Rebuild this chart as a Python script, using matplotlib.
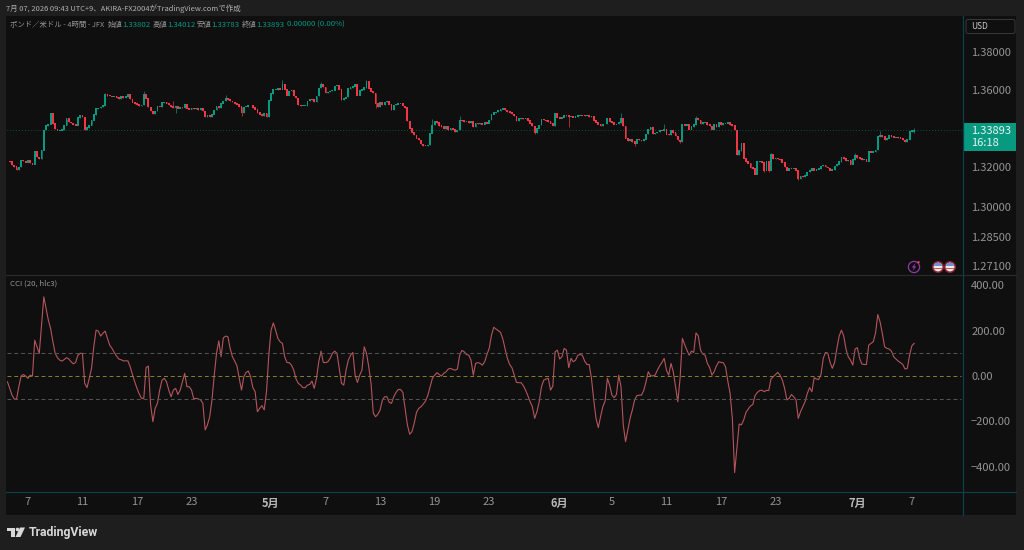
import matplotlib
matplotlib.use('Agg')
import matplotlib.pyplot as plt
import numpy as np
from matplotlib.patches import Circle, Polygon, Rectangle, FancyBboxPatch

plt.rcParams['font.family'] = ['Noto Sans CJK JP', 'DejaVu Sans']

# 4h closes, GBP/USD, oldest first
closes = [
    1.3233, 1.3229, 1.3212, 1.3204, 1.3188, 1.3202, 1.3236, 1.3233, 1.3226, 1.3236,
    1.3222, 1.3216, 1.3280, 1.3253, 1.3245, 1.3287, 1.3391, 1.3413, 1.3420, 1.3476,
    1.3425, 1.3396, 1.3389, 1.3389, 1.3394, 1.3416, 1.3450, 1.3433, 1.3428, 1.3421,
    1.3415, 1.3455, 1.3467, 1.3459, 1.3391, 1.3403, 1.3416, 1.3442, 1.3471, 1.3501,
    1.3505, 1.3510, 1.3518, 1.3578, 1.3569, 1.3568, 1.3566, 1.3566, 1.3559, 1.3552,
    1.3564, 1.3559, 1.3564, 1.3578, 1.3552, 1.3535, 1.3528, 1.3523, 1.3518, 1.3521,
    1.3578, 1.3556, 1.3510, 1.3489, 1.3474, 1.3490, 1.3512, 1.3510, 1.3534, 1.3537,
    1.3529, 1.3520, 1.3512, 1.3506, 1.3515, 1.3503, 1.3510, 1.3508, 1.3524, 1.3503,
    1.3498, 1.3506, 1.3501, 1.3503, 1.3496, 1.3503, 1.3489, 1.3460, 1.3465, 1.3458,
    1.3472, 1.3494, 1.3512, 1.3508, 1.3529, 1.3541, 1.3555, 1.3549, 1.3541, 1.3537,
    1.3527, 1.3524, 1.3512, 1.3482, 1.3510, 1.3513, 1.3520, 1.3520, 1.3508, 1.3498,
    1.3482, 1.3472, 1.3465, 1.3477, 1.3460, 1.3546, 1.3580, 1.3601, 1.3601, 1.3606,
    1.3603, 1.3627, 1.3603, 1.3572, 1.3594, 1.3598, 1.3568, 1.3558, 1.3520, 1.3517,
    1.3517, 1.3517, 1.3541, 1.3551, 1.3548, 1.3537, 1.3568, 1.3610, 1.3627, 1.3615,
    1.3586, 1.3589, 1.3594, 1.3598, 1.3620, 1.3623, 1.3603, 1.3549, 1.3555, 1.3563,
    1.3606, 1.3611, 1.3618, 1.3627, 1.3572, 1.3598, 1.3601, 1.3611, 1.3644, 1.3606,
    1.3592, 1.3584, 1.3529, 1.3512, 1.3537, 1.3520, 1.3537, 1.3541, 1.3524, 1.3494,
    1.3520, 1.3524, 1.3529, 1.3529, 1.3515, 1.3508, 1.3438, 1.3400, 1.3379, 1.3365,
    1.3348, 1.3340, 1.3319, 1.3310, 1.3309, 1.3314, 1.3374, 1.3417, 1.3434, 1.3429,
    1.3414, 1.3408, 1.3396, 1.3408, 1.3391, 1.3400, 1.3395, 1.3383, 1.3391, 1.3443,
    1.3439, 1.3432, 1.3434, 1.3429, 1.3438, 1.3408, 1.3426, 1.3422, 1.3426, 1.3420,
    1.3429, 1.3426, 1.3443, 1.3472, 1.3481, 1.3484, 1.3491, 1.3498, 1.3505, 1.3494,
    1.3486, 1.3481, 1.3474, 1.3463, 1.3439, 1.3450, 1.3451, 1.3450, 1.3451, 1.3439,
    1.3426, 1.3412, 1.3377, 1.3400, 1.3417, 1.3446, 1.3443, 1.3439, 1.3434, 1.3426,
    1.3412, 1.3477, 1.3457, 1.3451, 1.3457, 1.3469, 1.3465, 1.3460, 1.3460, 1.3457,
    1.3460, 1.3467, 1.3469, 1.3467, 1.3463, 1.3465, 1.3460, 1.3463, 1.3439, 1.3431,
    1.3420, 1.3413, 1.3422, 1.3423, 1.3452, 1.3435, 1.3430, 1.3421, 1.3423, 1.3430,
    1.3452, 1.3412, 1.3349, 1.3335, 1.3344, 1.3332, 1.3323, 1.3344, 1.3340, 1.3335,
    1.3344, 1.3371, 1.3395, 1.3406, 1.3371, 1.3375, 1.3381, 1.3388, 1.3387, 1.3395,
    1.3369, 1.3368, 1.3387, 1.3378, 1.3361, 1.3340, 1.3330, 1.3423, 1.3416, 1.3419,
    1.3395, 1.3409, 1.3418, 1.3452, 1.3443, 1.3423, 1.3430, 1.3430, 1.3418, 1.3412,
    1.3395, 1.3418, 1.3409, 1.3430, 1.3419, 1.3426, 1.3426, 1.3430, 1.3418, 1.3414,
    1.3392, 1.3263, 1.3285, 1.3323, 1.3246, 1.3228, 1.3220, 1.3199, 1.3194, 1.3165,
    1.3228, 1.3228, 1.3225, 1.3185, 1.3228, 1.3185, 1.3266, 1.3245, 1.3247, 1.3243,
    1.3240, 1.3225, 1.3202, 1.3185, 1.3194, 1.3192, 1.3194, 1.3185, 1.3142, 1.3154,
    1.3151, 1.3159, 1.3176, 1.3185, 1.3194, 1.3185, 1.3190, 1.3194, 1.3206, 1.3211,
    1.3202, 1.3197, 1.3185, 1.3188, 1.3206, 1.3216, 1.3228, 1.3250, 1.3245, 1.3233,
    1.3237, 1.3216, 1.3240, 1.3262, 1.3249, 1.3245, 1.3240, 1.3240, 1.3231, 1.3280,
    1.3276, 1.3280, 1.3288, 1.3357, 1.3366, 1.3357, 1.3340, 1.3348, 1.3366, 1.3357,
    1.3354, 1.3354, 1.3352, 1.3348, 1.3340, 1.3331, 1.3343, 1.3383, 1.3388, 1.33893,
]

# wicks that stand clear of the candle bodies
wick_high_idx = [43, 60, 73, 96, 121, 138, 158, 187, 199, 241, 270, 289, 303, 336, 373, 384, 399]
wick_high_val = [1.3586, 1.3595, 1.3541, 1.3575, 1.3654, 1.3644, 1.3653, 1.3448, 1.3463, 1.3481,
                 1.3481, 1.3423, 1.3464, 1.3271, 1.3274, 1.3386, 1.34012]
wick_low_idx = [74, 103, 162, 232, 247, 276, 296, 333, 335, 348, 399]
wick_low_val = [1.3477, 1.3465, 1.3503, 1.3369, 1.3408, 1.3309, 1.3323, 1.3176, 1.3176, 1.3137, 1.33783]

last_open = 1.33802
last_close = 1.33893

# CCI (20, hlc3), same bars as closes
cci = [
    -25, -54, -84, -101, -101, -47, 0, 7, 0, -10, 4, 0, 158, 129, 100, 224, 349, 297, 246, 209,
    151, 100, 81, 70, 66, 73, 81, 75, 63, 54, 60, 92, 100, 100, -32, -51, -10, 34, 129, 202,
    198, 176, 188, 198, 166, 136, 122, 104, 88, 75, 72, 67, 67, 67, 41, 7, -25, -54, -79, -98,
    -98, 37, 44, -127, -201, -142, -120, -62, -18, -10, -25, -62, -91, -62, -54, -81, -62, -25, 12, -47,
    -47, -62, -101, -98, -101, -105, -120, -237, -215, -179, -105, 4, 100, 155, 85, 168, 176, 173, 122, 85,
    66, 45, -10, -62, -3, 16, 22, -3, -51, -69, -157, -142, -130, -149, -69, 92, 202, 234, 202, 166,
    151, 144, 85, 60, 59, 48, 26, -13, -32, -40, -51, -51, -40, -37, -22, -54, -10, 63, 110, 60,
    59, 63, 78, 100, 110, 100, 34, -32, -40, 26, 70, 92, 104, 4, -28, 4, 26, 129, 100, 41,
    -32, -164, -179, -168, -149, -105, -91, -91, -116, -120, -91, -72, -59, -59, -72, -142, -215, -256, -245, -208,
    -160, -142, -135, -123, -110, -84, -47, -10, 4, 15, 7, 0, 12, 19, 31, 34, 29, 26, 31, 92,
    113, 107, 95, 92, 70, 4, 56, 59, 56, 48, 63, 95, 122, 180, 215, 207, 200, 192, 163, 119,
    78, 51, 37, 4, -28, -29, -29, -42, -62, -86, -113, -135, -186, -157, -113, -47, -18, -13, -10, -62,
    -44, 107, 114, 75, 85, 122, 114, 37, 78, 63, 70, 92, 95, 92, 66, 51, 51, -10, -105, -186,
    -227, -179, -135, -110, -10, -40, -84, -95, -81, 4, -47, -215, -289, -237, -186, -149, -105, -86, -84, -84,
    -64, -25, 19, 1, 1, 4, 26, 45, 60, 78, 26, 4, 56, 19, -47, -113, -10, 166, 139, 114,
    92, 110, 104, 190, 177, 114, 97, 92, 56, 38, 4, 19, 45, 63, 60, 59, 41, -22, -76, -186,
    -425, -318, -211, -215, -193, -160, -145, -132, -125, -86, -72, -64, -62, -69, -63, -64, -13, -3, 7, 16,
    4, -18, -54, -105, -98, -81, -91, -105, -186, -157, -135, -113, -76, -51, -69, -7, -13, -15, 7, 78,
    104, 101, 60, 34, 60, 122, 176, 202, 177, 119, 85, 70, 48, 119, 125, 78, 53, 51, 51, 136,
    144, 151, 188, 271, 239, 188, 129, 122, 119, 110, 85, 75, 66, 59, 51, 31, 34, 92, 133, 144,
]

date_tick_idx = [9, 33, 57, 81, 116, 140, 164, 188, 212, 243, 266, 290, 314, 338, 374, 398]
date_tick_lab = ['7', '11', '17', '23', '5月', '7', '13', '19', '23', '6月', '5', '11', '17', '23', '7月', '7']
month_labels = ['5月', '6月', '7月']

price_ticks = [1.38, 1.36, 1.32, 1.30, 1.285, 1.271]
cci_ticks = [400, 200, 0, -200, -400]
cci_levels = [100, -100]

BG_OUTER = '#1e1e1e'
BG_PANE = '#0f0f0f'
UP = '#089981'
DOWN = '#f23645'
TICK = '#949494'
LEGEND_GREY = '#969696'
EDGE_TEAL = '#0c3f4a'
EDGE_GREY = '#2a2a2a'

W, H = 1024, 550


def pane_rect(x0, y0, x1, y1):
    # pixel box (y down) to figure fractions
    return [x0 / W, 1 - y1 / H, (x1 - x0) / W, (y1 - y0) / H]


closes = np.array(closes)
opens = np.r_[closes[0], closes[:-1]]
opens[-1] = last_open
highs = np.maximum(opens, closes)
lows = np.minimum(opens, closes)
highs[wick_high_idx] = wick_high_val
lows[wick_low_idx] = wick_low_val
bars = np.arange(len(closes))
rising = closes >= opens

fig = plt.figure(figsize=(W / 100, H / 100), dpi=100, facecolor=BG_OUTER)

# full-figure layer in pixel coordinates for the frame, badges and logo
chrome = fig.add_axes([0, 0, 1, 1], zorder=0)
chrome.set_xlim(0, W)
chrome.set_ylim(H, 0)
chrome.axis('off')
chrome.add_patch(Rectangle((6, 16), 1010, 499, fc=BG_PANE, ec='none'))

xlim = (-0.2, 420.5)

ax = fig.add_axes(pane_rect(7, 17, 963, 275), zorder=1, facecolor='none')
ax.set_yscale('log')
ax.vlines(bars[rising], lows[rising], highs[rising], color=UP, lw=0.7, alpha=0.7)
ax.vlines(bars[~rising], lows[~rising], highs[~rising], color=DOWN, lw=0.7, alpha=0.7)
# bodies keep a sliver of height on flat bars
ax.bar(bars[rising], (closes - opens)[rising] + 0.00035, bottom=opens[rising] - 0.00015, width=0.8, color=UP, lw=0)
ax.bar(bars[~rising], (opens - closes)[~rising] + 0.00035, bottom=closes[~rising] - 0.00015, width=0.8, color=DOWN, lw=0)
ax.axhline(last_close, color=UP, lw=0.6, ls=(0, (1, 2.5)), alpha=0.65)
ax.set_xlim(*xlim)
ax.set_ylim(1.26638, 1.39874)
ax.yaxis.tick_right()
ax.set_yticks(price_ticks)
ax.set_yticklabels(['%.5f' % p for p in price_ticks])
ax.minorticks_off()
ax.set_xticks([])
ax.tick_params(axis='y', length=0, pad=5.8, labelsize=8, labelcolor=TICK)

cax = fig.add_axes(pane_rect(7, 275, 963, 491), zorder=1, facecolor='none')
cax.plot(bars, cci, color='#b4555c', lw=0.8)
for lev in cci_levels:
    cax.axhline(lev, xmax=0.998, color='#565656', lw=0.7, ls=(0, (4, 3)))
cax.axhline(0, xmax=0.998, color='#85802c', lw=0.7, ls=(0, (4, 3)))
cax.set_xlim(*xlim)
cax.set_ylim(-506, 445)
cax.yaxis.tick_right()
cax.set_yticks(cci_ticks)
cax.set_yticklabels([('%.2f' % v).replace('-', '\u2212') for v in cci_ticks])
cax.set_xticks(date_tick_idx)
cax.set_xticklabels(date_tick_lab)
cax.tick_params(axis='y', length=0, pad=5.8, labelsize=8, labelcolor=TICK)
cax.tick_params(axis='x', length=0, pad=4.5, labelsize=8, labelcolor=TICK)
for lab in cax.get_xticklabels():
    if lab.get_text() in month_labels:
        lab.set_fontweight('bold')
        lab.set_color('#b8b8b8')

for a in (ax, cax):
    for s in a.spines.values():
        s.set_visible(False)

# pane separators
chrome.plot([6, 1016], [275, 275], color=EDGE_GREY, lw=0.9)
chrome.plot([6, 1016], [491.5, 491.5], color=EDGE_TEAL, lw=0.9)
chrome.plot([963, 963], [16, 515], color=EDGE_TEAL, lw=0.9)

# top caption and OHLC legend
chrome.text(6, 8.5, '7月 07, 2026 09:43 UTC+9、AKIRA-FX2004がTradingView.comで作成',
            color='#b0b0b0', fontsize=5.4, va='center', ha='left')
legend_y = 25
chrome.text(10, legend_y, 'ポンド／米ドル - 4時間 - JFX', color=LEGEND_GREY, fontsize=5.3, va='center')
ohlc_names = ['始値', '高値', '安値', '終値']
ohlc_vals = ['1.33802', '1.34012', '1.33783', '1.33893']
ohlc_x = [108, 153, 197, 242]
for xp, nm, val in zip(ohlc_x, ohlc_names, ohlc_vals):
    chrome.text(xp, legend_y, nm, color=LEGEND_GREY, fontsize=5.3, va='center')
    chrome.text(xp + 14, legend_y, val, color=UP, fontsize=5.6, va='center')
chrome.text(287, legend_y, '0.00000 (0.00%)', color=UP, fontsize=5.6, va='center')
chrome.text(10, 284, 'CCI (20, hlc3)', color=LEGEND_GREY, fontsize=5.6, va='center')

# currency button
chrome.add_patch(FancyBboxPatch((966, 19.5), 49, 14, boxstyle='round,pad=0,rounding_size=2',
                                fc=BG_PANE, ec='#3a3a3a', lw=0.7))
chrome.text(971, 26.5, 'USD', color='#c8c8c8', fontsize=6, va='center')

# last price tag
chrome.add_patch(Rectangle((963.5, 122.5), 52, 28, fc=UP, ec='none'))
chrome.text(971, 130.5, '%.5f' % last_close, color='#e8f4f1', fontsize=8, va='center')
chrome.text(971, 143, '16:18', color='#e8f4f1', fontsize=8, va='center')

# event badges
chrome.add_patch(Circle((914, 267), 5.6, fc=BG_PANE, ec='#8e3aa8', lw=0.9))
chrome.add_patch(Polygon([(915.5, 262.8), (911.8, 267.6), (913.9, 267.6), (912.6, 271.2), (916.3, 266.4), (914.2, 266.4)],
                         fc='#8e3aa8', ec='none'))
chrome.add_patch(Circle((918.5, 262.2), 1.2, fc='#f23645', ec='none', zorder=5))
for cx in (938, 950):
    chrome.add_patch(Circle((cx, 267), 6, fc='#8d2430', ec='none'))
    face = Circle((cx, 267), 4.4, fc='#ececec', ec='none')
    chrome.add_patch(face)
    canton = Rectangle((cx - 4.4, 262.6), 8.8, 3.6, fc='#6f8fd8', ec='none')
    chrome.add_patch(canton)
    canton.set_clip_path(face)
    stripe = Rectangle((cx - 4.4, 268.2), 8.8, 1.2, fc='#d8525c', ec='none')
    chrome.add_patch(stripe)
    stripe.set_clip_path(face)

# logo mark and wordmark
chrome.add_patch(Polygon([(7, 527.5), (15, 527.5), (15, 537), (11, 537), (11, 531), (7, 531)], fc='#d8d8d8', ec='none'))
chrome.add_patch(Circle((17.5, 529.5), 1.8, fc='#d8d8d8', ec='none'))
chrome.add_patch(Polygon([(20, 527.5), (25, 527.5), (20.5, 537), (15.5, 537)], fc='#d8d8d8', ec='none'))
chrome.text(29, 532.5, 'TradingView', color='#d8d8d8', fontsize=8.8, fontweight='semibold',
            va='center', family=['Roboto', 'DejaVu Sans'])

fig.savefig('out.png', dpi=100, facecolor=BG_OUTER)
